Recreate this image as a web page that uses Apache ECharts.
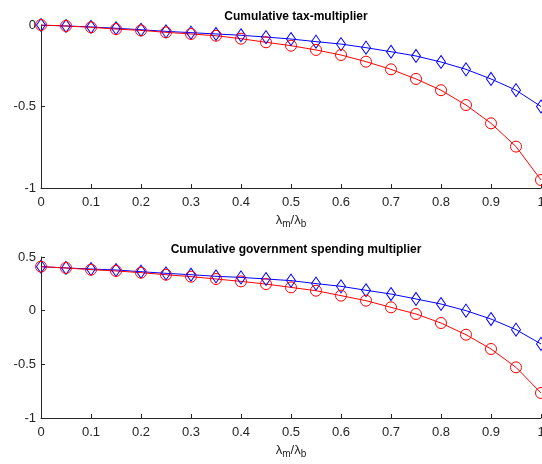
<!DOCTYPE html>
<html>
<head>
<meta charset="utf-8">
<script src="https://cdn.jsdelivr.net/npm/echarts@6/dist/echarts.min.js"></script>
<style>
  html, body { margin: 0; padding: 0; background: #fff; }
  #chart { width: 542px; height: 464px; }
</style>
</head>
<body>
<div id="chart"></div>
<script>
// Ratio lambda_m / lambda_b on the horizontal axis
const ratio = [0, 0.05, 0.1, 0.15, 0.2, 0.25, 0.3, 0.35, 0.4, 0.45, 0.5,
               0.55, 0.6, 0.65, 0.7, 0.75, 0.8, 0.85, 0.9, 0.95, 1.0];

// Cumulative tax multiplier
const taxBlue = [0, -0.006, -0.012, -0.020, -0.029, -0.039, -0.047, -0.055, -0.063, -0.074, -0.086,
                 -0.102, -0.117, -0.139, -0.164, -0.190, -0.227, -0.272, -0.331, -0.400, -0.500];
const taxRed  = [0, -0.006, -0.014, -0.025, -0.033, -0.045, -0.055, -0.066, -0.084, -0.106, -0.127,
                 -0.153, -0.184, -0.225, -0.272, -0.331, -0.400, -0.491, -0.603, -0.746, -0.951];

// Cumulative government spending multiplier
const govBlue = [0.410, 0.398, 0.388, 0.379, 0.363, 0.348, 0.335, 0.320, 0.310, 0.295, 0.280,
                 0.252, 0.227, 0.190, 0.155, 0.109, 0.062, 0.000, -0.078, -0.177, -0.310];
const govRed  = [0.410, 0.398, 0.382, 0.370, 0.354, 0.335, 0.317, 0.295, 0.273, 0.248, 0.217,
                 0.186, 0.140, 0.093, 0.031, -0.031, -0.115, -0.224, -0.357, -0.528, -0.767];

const titles = ['Cumulative tax-multiplier', 'Cumulative government spending multiplier'];

const pairs = (ys) => ratio.map((x, i) => [x, ys[i]]);

const axisColor = '#262626';
const fontFamily = 'Liberation Sans, Arial, Helvetica, sans-serif';

function xAxisFor(gridIndex) {
  return {
    type: 'value', gridIndex, min: 0, max: 1, interval: 0.1,
    axisLine: { show: true, onZero: false, lineStyle: { color: axisColor, width: 1 } },
    axisTick: { show: true, inside: true, length: 4, lineStyle: { color: axisColor } },
    axisLabel: { color: axisColor, fontSize: 13, fontFamily, margin: 8,
                 formatter: v => String(Math.round(v * 10) / 10) },
    splitLine: { show: false },
    name: '{a|λ}{s|m}{a|/λ}{s|b}',
    nameLocation: 'middle', nameGap: 23,
    nameTextStyle: {
      rich: {
        a: { fontSize: 13, color: axisColor, fontFamily },
        s: { fontSize: 10, color: axisColor, fontFamily, verticalAlign: 'bottom', padding: [8, 0, 0, 0] }
      }
    }
  };
}

function yAxisFor(gridIndex, min, max) {
  return {
    type: 'value', gridIndex, min, max, interval: 0.5,
    axisLine: { show: true, onZero: false, lineStyle: { color: axisColor, width: 1 } },
    axisTick: { show: true, inside: true, length: 4, lineStyle: { color: axisColor } },
    axisLabel: { color: axisColor, fontSize: 13, fontFamily, margin: 5,
                 formatter: v => String(Math.round(v * 10) / 10) },
    splitLine: { show: false }
  };
}

function lineSeries(idx, ys, color, symbol, size) {
  return {
    type: 'line', xAxisIndex: idx, yAxisIndex: idx,
    data: pairs(ys),
    symbol, symbolSize: size, showAllSymbol: true,
    lineStyle: { color, width: 1 },
    itemStyle: { color: 'transparent', borderColor: color, borderWidth: 1 },
    emphasis: { disabled: true },
    animation: false
  };
}

const chart = echarts.init(document.getElementById('chart'), null, { renderer: 'canvas' });
chart.setOption({
  animation: false,
  title: [
    { text: titles[0], left: 291, top: 6, textAlign: 'center',
      textStyle: { fontSize: 12, fontWeight: 'bold', color: '#000', fontFamily } },
    { text: titles[1], left: 291, top: 239, textAlign: 'center',
      textStyle: { fontSize: 12, fontWeight: 'bold', color: '#000', fontFamily } }
  ],
  grid: [
    { left: 41, top: 25, width: 500, height: 163, outerBoundsMode: 'none', containLabel: false },
    { left: 41, top: 257, width: 500, height: 161, outerBoundsMode: 'none', containLabel: false }
  ],
  xAxis: [xAxisFor(0), xAxisFor(1)],
  yAxis: [yAxisFor(0, -1, 0), yAxisFor(1, -1, 0.5)],
  series: [
    lineSeries(0, taxBlue, '#0000ff', 'diamond', [9, 13]),
    lineSeries(0, taxRed, '#ff0000', 'circle', 11),
    lineSeries(1, govBlue, '#0000ff', 'diamond', [9, 13]),
    lineSeries(1, govRed, '#ff0000', 'circle', 11)
  ]
});
</script>
</body>
</html>
